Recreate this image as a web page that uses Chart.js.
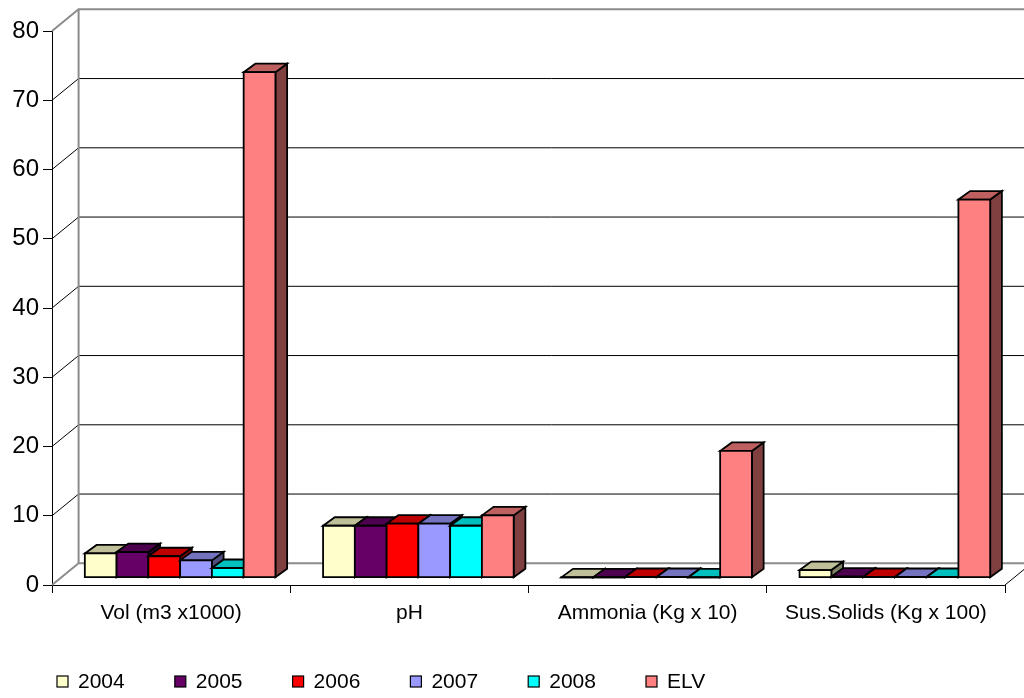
<!DOCTYPE html>
<html>
<head>
<meta charset="utf-8">
<script src="https://cdn.jsdelivr.net/npm/chart.js@4/dist/chart.umd.min.js"></script>
<style>
  html, body { margin: 0; padding: 0; background: #fff; }
  #wrap { width: 1024px; height: 698px; }
</style>
</head>
<body>
<div id="wrap"><canvas id="c" width="1024" height="698"></canvas></div>
<script>
// Effluent parameters per year against the emission limit value (ELV)
const categories = ['Vol (m3 x1000)', 'pH', 'Ammonia (Kg x 10)', 'Sus.Solids (Kg x 100)'];
const seriesNames = ['2004', '2005', '2006', '2007', '2008', 'ELV'];
const values2004 = [3.5, 7.5, 0.05, 1.1];
const values2005 = [3.7, 7.5, 0.05, 0.15];
const values2006 = [3.1, 7.8, 0.1, 0.1];
const values2007 = [2.5, 7.8, 0.1, 0.1];
const values2008 = [1.4, 7.5, 0.05, 0.1];
const valuesELV = [73, 9, 18.3, 54.6];
const yTickValues = [0, 10, 20, 30, 40, 50, 60, 70, 80];

const seriesColors = ['#FFFFCC', '#660066', '#FF0000', '#9999FF', '#00FFFF', '#FF8080'];
const seriesValues = [values2004, values2005, values2006, values2007, values2008, valuesELV];

const FONT = '"Liberation Sans", Arial, sans-serif';
const WALL = { dx: 26.6, dy: -21.7 };   // depth of the floor / side wall
const BAR_FRONT = { dx: 9, dy: -7.3 };  // bars stand part way into the floor
const BAR_DEPTH = { dx: 11.7, dy: -8.5 };

function shade(hex, f) {
  const n = parseInt(hex.slice(1), 16);
  const r = Math.round(((n >> 16) & 255) * f);
  const g = Math.round(((n >> 8) & 255) * f);
  const b = Math.round((n & 255) * f);
  return `rgb(${r},${g},${b})`;
}

function poly(ctx, pts, fill) {
  ctx.beginPath();
  ctx.moveTo(pts[0][0], pts[0][1]);
  for (let i = 1; i < pts.length; i++) ctx.lineTo(pts[i][0], pts[i][1]);
  ctx.closePath();
  ctx.fillStyle = fill;
  ctx.fill();
  ctx.stroke();
}

const box3d = {
  id: 'box3d',
  beforeDatasetsDraw(chart) {
    const ctx = chart.ctx;
    const area = chart.chartArea;
    const ys = chart.scales.y;
    const W = chart.width;
    ctx.save();

    // back wall gridlines and side wall diagonals
    yTickValues.forEach(v => {
      const py = ys.getPixelForValue(v);
      const edge = (v === 0 || v === 80);
      ctx.strokeStyle = edge ? '#8c8c8c' : '#000';
      ctx.lineWidth = edge ? 2 : 1;
      ctx.beginPath();
      ctx.moveTo(area.left, py);
      ctx.lineTo(area.left + WALL.dx, py + WALL.dy);
      ctx.lineTo(W + 10, py + WALL.dy);
      ctx.stroke();
    });
    // back wall left edge
    ctx.strokeStyle = '#8c8c8c';
    ctx.lineWidth = 2;
    ctx.beginPath();
    ctx.moveTo(area.left + WALL.dx, ys.getPixelForValue(80) + WALL.dy);
    ctx.lineTo(area.left + WALL.dx, ys.getPixelForValue(0) + WALL.dy);
    ctx.stroke();
    // floor right edge
    ctx.strokeStyle = '#000';
    ctx.lineWidth = 1;
    ctx.beginPath();
    ctx.moveTo(area.right, area.bottom);
    ctx.lineTo(area.right + WALL.dx, area.bottom + WALL.dy);
    ctx.stroke();

    // 3D bars: side, top, then front face
    ctx.strokeStyle = '#000';
    ctx.lineWidth = 1.8;
    ctx.lineJoin = 'miter';
    chart.data.datasets.forEach((ds, i) => {
      const meta = chart.getDatasetMeta(i);
      const col = ds.backgroundColor;
      meta.data.forEach(bar => {
        const p = bar.getProps(['x', 'y', 'base', 'width'], true);
        const l = p.x - p.width / 2 + BAR_FRONT.dx;
        const r = p.x + p.width / 2 + BAR_FRONT.dx;
        const t = p.y + BAR_FRONT.dy;
        const b = p.base + BAR_FRONT.dy;
        const dx = BAR_DEPTH.dx, dy = BAR_DEPTH.dy;
        poly(ctx, [[r, t], [r + dx, t + dy], [r + dx, b + dy], [r, b]], shade(col, 0.5));
        poly(ctx, [[l, t], [l + dx, t + dy], [r + dx, t + dy], [r, t]], shade(col, 0.75));
        poly(ctx, [[l, t], [r, t], [r, b], [l, b]], col);
      });
    });
    ctx.restore();
    return false;
  },
  afterDraw(chart) {
    // legend row
    const ctx = chart.ctx;
    ctx.save();
    ctx.font = `21px ${FONT}`;
    ctx.textBaseline = 'middle';
    ctx.fillStyle = '#000';
    chart.data.datasets.forEach((ds, i) => {
      const x = 57 + i * 117.8;
      const y = 682;
      ctx.fillStyle = ds.backgroundColor;
      ctx.fillRect(x, y - 6, 11, 11);
      ctx.strokeStyle = '#000';
      ctx.lineWidth = 1.2;
      ctx.strokeRect(x, y - 6, 11, 11);
      ctx.fillStyle = '#000';
      ctx.fillText(ds.label, x + 21, y);
    });
    ctx.restore();
  }
};

const datasets = seriesNames.map((name, i) => ({
  label: name,
  data: seriesValues[i],
  backgroundColor: seriesColors[i],
  borderColor: '#000',
  borderWidth: 0
}));

new Chart(document.getElementById('c'), {
  type: 'bar',
  data: { labels: categories, datasets },
  options: {
    responsive: false,
    animation: false,
    layout: { padding: { top: 31, right: 19, left: 0, bottom: 0 } },
    plugins: { legend: { display: false }, tooltip: { enabled: false } },
    datasets: { bar: { categoryPercentage: 0.8, barPercentage: 1.0 } },
    scales: {
      x: {
        grid: { offset: true, drawOnChartArea: false, drawTicks: true, tickLength: 8, color: '#000' },
        border: { color: '#000', width: 1 },
        ticks: { color: '#000', font: { size: 21, family: FONT }, padding: 8, maxRotation: 0, autoSkip: false },
        afterFit(s) { s.height = 113; }
      },
      y: {
        min: 0, max: 80,
        afterBuildTicks(s) { s.ticks = yTickValues.map(v => ({ value: v })); },
        grid: { drawOnChartArea: false, drawTicks: true, tickLength: 9, color: '#000' },
        border: { color: '#000', width: 1 },
        ticks: { color: '#000', font: { size: 24, family: FONT }, padding: 4 },
        afterFit(s) { s.width = 52; }
      }
    }
  },
  plugins: [box3d]
});
</script>
</body>
</html>
